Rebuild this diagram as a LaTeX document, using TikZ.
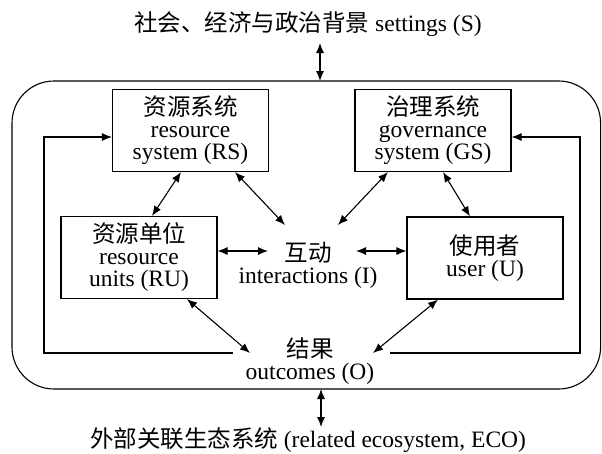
\documentclass[tikz,border=0pt]{standalone}
\usepackage{fontspec}
\setmainfont{Liberation Serif}
\newfontfamily\cjk{Noto Sans CJK SC}
\usetikzlibrary{arrows.meta,calc}
\begin{document}
\begin{tikzpicture}[x=1pt,y=-1pt,
  txt/.style={align=center,inner sep=0pt,font=\fontsize{23.5}{22}\selectfont},
  box/.style={draw,line width=1.1pt,minimum width=156pt,minimum height=82pt,inner sep=0pt,align=center,font=\fontsize{23.5}{22}\selectfont},
  tip/.style={Latex[length=10pt,width=8pt]},
  link/.style={line width=1.1pt,{Latex[length=10pt,width=8pt]}-{Latex[length=10pt,width=8pt]}},
  feed/.style={line width=1.1pt,-{Latex[length=10pt,width=8pt]}},
  frame/.style={line width=1.1pt,rounded corners=42pt}]
\useasboundingbox (0,0) rectangle (602,453);

% outer frame
\draw[frame] (12,81) rectangle (600.6,389);
\coordinate (Ftop) at (320,81);
\coordinate (Fbot) at (321,389);

% texts
\node[txt] (S) at (308,24) {{\cjk 社会、经济与政治背景} settings (S)};
\node[txt] (E) at (308,440) {{\cjk 外部关联生态系统} (related ecosystem, ECO)};

% boxes
\node[box] (RS) at (190.5,130.5) {{\cjk 资源系统}\\resource\\system (RS)};
\node[box] (GS) at (433,130.5) {{\cjk 治理系统}\\governance\\system (GS)};
\node[box] (RU) at (139,257.5) {{\cjk 资源单位}\\resource\\units (RU)};
\node[box] (U) at (485,258) {{\cjk 使用者}\\user (U)};

% interactions and outcomes
\node[txt] (I) at (308,265) {{\cjk 互动}\\interactions (I)};
\node[txt] (O) at (310,361) {{\cjk 结果}\\outcomes (O)};

\coordinate (Inw) at (285,225);
\coordinate (Ine) at (338,225);
\coordinate (Iw) at (268,251);
\coordinate (Ie) at (356,251);
\coordinate (Ow) at (250,353);
\coordinate (Oe) at (373,353);
\coordinate (OL) at (233,353);
\coordinate (OR) at (390,353);

% top / bottom arrows
\draw[link] ([xshift=12pt]S.south |- 0,43) -- (Ftop);
\draw[link] (Fbot) -- (321,427);

% links
\draw[link] ([xshift=-9.5pt]RS.south) -- ([xshift=13pt]RU.north);
\draw[link] ([xshift=44.5pt]RS.south) -- (Inw);
\draw[link] ([xshift=-45pt]GS.south) -- (Ine);
\draw[link] ([xshift=10pt]GS.south) -- ([xshift=-15pt]U.north);
\draw[link] ([yshift=6.5pt]RU.east) -- (Iw);
\draw[link] (Ie) -- ([yshift=7pt]U.west);
\draw[link] ([xshift=48pt]RU.south) -- (Ow);
\draw[link] ([xshift=-47pt]U.south) -- (Oe);

% feedback
\draw[feed] (OL) -- (44,353) -- (44,137) -- ([yshift=-6.5pt]RS.west);
\draw[feed] (OR) -- (580,353) -- (580,137) -- ([yshift=-6.5pt]GS.east);
\end{tikzpicture}
\end{document}
